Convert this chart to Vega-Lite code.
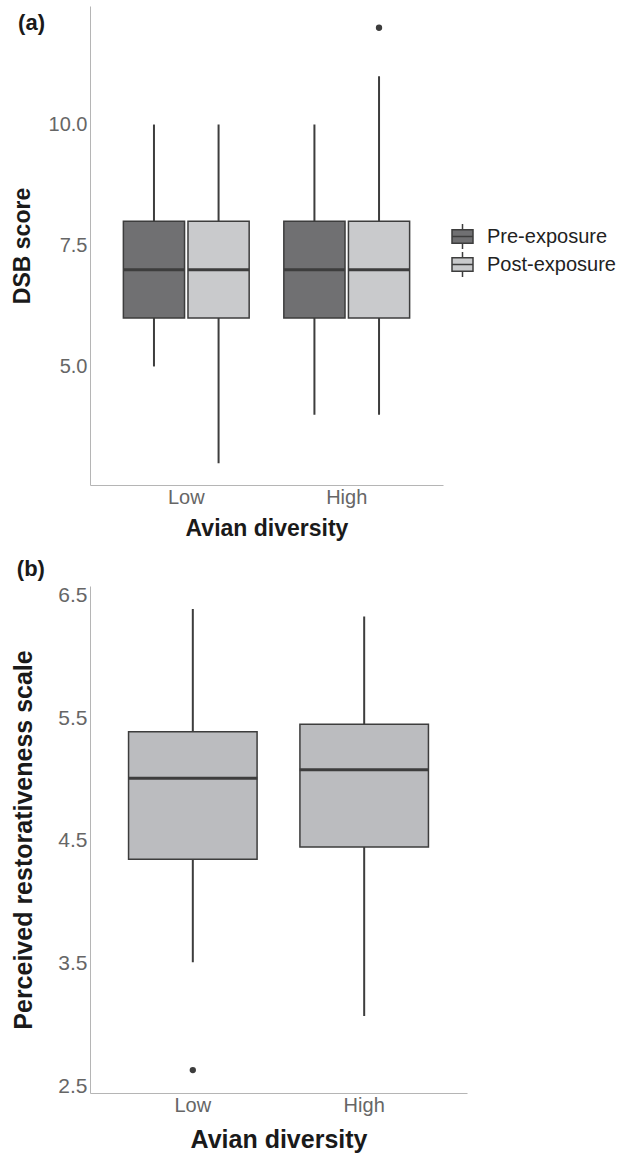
{
  "$schema": "https://vega.github.io/schema/vega-lite/v6.json",
  "padding": {"left": 11, "top": 6, "right": 5, "bottom": 3},
  "background": "white",
  "datasets": {
    "a_stats": [
      {"diversity": "Low", "exposure": "Pre-exposure", "lower": 5, "q1": 6, "median": 7, "q3": 8, "upper": 10},
      {"diversity": "Low", "exposure": "Post-exposure", "lower": 3, "q1": 6, "median": 7, "q3": 8, "upper": 10},
      {"diversity": "High", "exposure": "Pre-exposure", "lower": 4, "q1": 6, "median": 7, "q3": 8, "upper": 10},
      {"diversity": "High", "exposure": "Post-exposure", "lower": 4, "q1": 6, "median": 7, "q3": 8, "upper": 11}
    ],
    "a_out": [
      {"diversity": "High", "exposure": "Post-exposure", "value": 12}
    ],
    "b_stats": [
      {"diversity": "Low", "lower": 3.51, "q1": 4.35, "median": 5.01, "q3": 5.39, "upper": 6.39},
      {"diversity": "High", "lower": 3.07, "q1": 4.45, "median": 5.08, "q3": 5.45, "upper": 6.33}
    ],
    "b_out": [
      {"diversity": "Low", "value": 2.63}
    ]
  },
  "config": {
    "view": {"stroke": null},
    "font": "Liberation Sans",
    "axis": {
      "domainColor": "#b5b5b5",
      "domainWidth": 1,
      "ticks": false,
      "grid": false,
      "labelFont": "Liberation Sans",
      "labelFontSize": 20,
      "labelColor": "#666666",
      "labelPadding": 3,
      "titleFont": "Liberation Sans",
      "titleFontWeight": "bold",
      "titleColor": "#1a1a1a"
    },
    "legend": {
      "symbolType": "M-1,-0.65H1V0.65H-1Z M-1,0H1 M0,-0.65V-1.2 M0,0.65V1.2",
      "symbolSize": 441,
      "symbolStrokeWidth": 1.5,
      "symbolStrokeColor": "#3d3d3d",
      "labelFont": "Liberation Sans",
      "labelFontSize": 20,
      "labelColor": "#222222",
      "labelOffset": 13,
      "rowPadding": -5
    },
    "title": {"font": "Liberation Sans", "fontSize": 22, "fontWeight": "bold", "color": "#1a1a1a"}
  },
  "spacing": 17,
  "vconcat": [
    {
      "width": 353,
      "height": 479,
      "title": {"text": "(a)", "anchor": "start", "frame": "bounds", "offset": -29, "dx": 7},
      "encoding": {
        "x": {
          "field": "diversity", "type": "nominal", "sort": ["Low", "High"],
          "scale": {"paddingInner": 0.216, "paddingOuter": 0.208},
          "axis": {"title": "Avian diversity", "titleFontSize": 23, "labelAngle": 0, "labelPadding": 2, "titlePadding": 10}
        },
        "xOffset": {
          "field": "exposure", "type": "nominal", "sort": ["Pre-exposure", "Post-exposure"],
          "scale": {"paddingInner": 0.053, "paddingOuter": 0}
        }
      },
      "layer": [
        {
          "data": {"name": "a_stats"},
          "mark": {"type": "rule", "color": "#3d3d3d", "strokeWidth": 2},
          "encoding": {
            "y": {
              "field": "lower", "type": "quantitative",
              "scale": {"domain": [2.55, 12.45], "nice": false, "zero": false},
              "axis": {"values": [5, 7.5, 10], "format": ".1f", "title": "DSB score", "titleFontSize": 23, "titlePadding": 14}
            },
            "y2": {"field": "upper"}
          }
        },
        {
          "data": {"name": "a_stats"},
          "mark": {"type": "bar", "stroke": "#3d3d3d", "strokeWidth": 1.5},
          "encoding": {
            "y": {"field": "q1", "type": "quantitative"},
            "y2": {"field": "q3"},
            "fill": {
              "field": "exposure", "type": "nominal",
              "scale": {"domain": ["Pre-exposure", "Post-exposure"], "range": ["#707072", "#c9cacc"]},
              "legend": {"title": null, "orient": "none", "legendX": 361, "legendY": 219}
            }
          }
        },
        {
          "data": {"name": "a_stats"},
          "mark": {"type": "tick", "color": "#3d3d3d", "thickness": 3, "size": 61, "opacity": 1},
          "encoding": {
            "y": {"field": "median", "type": "quantitative"}
          }
        },
        {
          "data": {"name": "a_out"},
          "mark": {"type": "point", "filled": true, "color": "#3d3d3d", "size": 40, "opacity": 1},
          "encoding": {
            "y": {"field": "value", "type": "quantitative"}
          }
        }
      ]
    },
    {
      "width": 377,
      "height": 507,
      "title": {"text": "(b)", "anchor": "start", "frame": "bounds", "offset": 4, "dx": 5},
      "encoding": {
        "x": {
          "field": "diversity", "type": "nominal", "sort": ["Low", "High"],
          "scale": {"paddingInner": 0.25, "paddingOuter": 0.225},
          "axis": {"title": "Avian diversity", "titleFontSize": 25, "labelAngle": 0, "labelPadding": 2, "titlePadding": 12}
        }
      },
      "layer": [
        {
          "data": {"name": "b_stats"},
          "mark": {"type": "rule", "color": "#3d3d3d", "strokeWidth": 2},
          "encoding": {
            "y": {
              "field": "lower", "type": "quantitative",
              "scale": {"domain": [2.443, 6.578], "nice": false, "zero": false},
              "axis": {"values": [2.5, 3.5, 4.5, 5.5, 6.5], "format": ".1f", "title": "Perceived restorativeness scale", "titleFontSize": 25, "titlePadding": 21, "labelFontSize": 21}
            },
            "y2": {"field": "upper"}
          }
        },
        {
          "data": {"name": "b_stats"},
          "mark": {"type": "bar", "stroke": "#3d3d3d", "strokeWidth": 1.5, "fill": "#bbbcbf"},
          "encoding": {
            "y": {"field": "q1", "type": "quantitative"},
            "y2": {"field": "q3"}
          }
        },
        {
          "data": {"name": "b_stats"},
          "mark": {"type": "tick", "color": "#3d3d3d", "thickness": 3, "size": 129, "opacity": 1},
          "encoding": {
            "y": {"field": "median", "type": "quantitative"}
          }
        },
        {
          "data": {"name": "b_out"},
          "mark": {"type": "point", "filled": true, "color": "#3d3d3d", "size": 40, "opacity": 1},
          "encoding": {
            "y": {"field": "value", "type": "quantitative"}
          }
        }
      ]
    }
  ]
}
